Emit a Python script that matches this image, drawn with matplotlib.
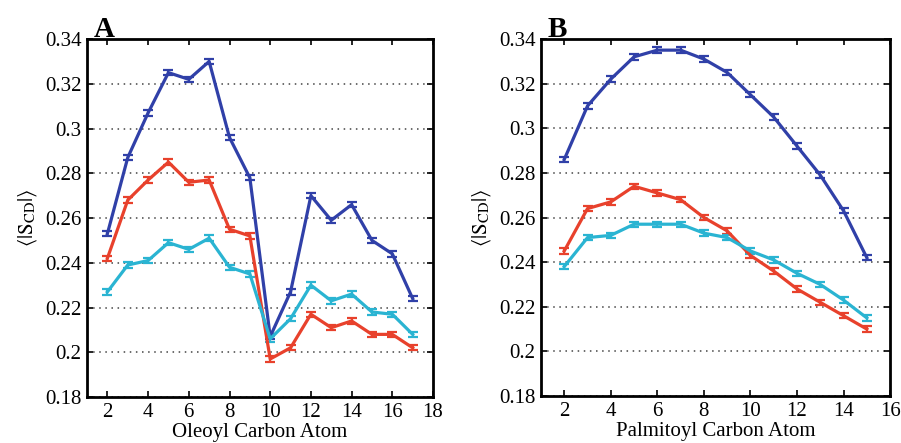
import matplotlib
matplotlib.use("Agg")
import matplotlib.pyplot as plt
import numpy as np

plt.rcParams['font.family'] = ['Liberation Serif', 'DejaVu Serif']
plt.rcParams['mathtext.fontset'] = 'stix'

# Panel A: oleoyl chain
carbons_a = list(range(2, 18))
blue_a = [0.253, 0.287, 0.307, 0.325, 0.322, 0.330, 0.296, 0.278, 0.207, 0.227,
          0.270, 0.259, 0.266, 0.250, 0.244, 0.224]
red_a = [0.242, 0.268, 0.277, 0.285, 0.276, 0.277, 0.255, 0.252, 0.197, 0.202,
         0.217, 0.211, 0.214, 0.208, 0.208, 0.202]
cyan_a = [0.227, 0.239, 0.241, 0.249, 0.246, 0.251, 0.238, 0.235, 0.206, 0.215,
          0.230, 0.223, 0.226, 0.218, 0.217, 0.208]

# Panel B: palmitoyl chain
carbons_b = list(range(2, 16))
blue_b = [0.286, 0.310, 0.322, 0.332, 0.335, 0.335, 0.331, 0.325, 0.315, 0.305,
          0.292, 0.279, 0.263, 0.242]
red_b = [0.245, 0.264, 0.267, 0.274, 0.271, 0.268, 0.260, 0.254, 0.243, 0.236,
         0.228, 0.222, 0.216, 0.210]
cyan_b = [0.238, 0.251, 0.252, 0.257, 0.257, 0.257, 0.253, 0.251, 0.245, 0.241,
          0.235, 0.230, 0.223, 0.215]

err = 0.0012
colors = {'blue': '#3040a8', 'red': '#e8412c', 'cyan': '#2ab4d2'}

fig = plt.figure(figsize=(9.01, 4.43), dpi=100)
axA = fig.add_axes([0.0966, 0.1038, 0.384, 0.808])
axB = fig.add_axes([0.6004, 0.1060, 0.3875, 0.806])

def style(ax, xlim, xticks, xlabel, letter):
    ax.set_xlim(*xlim)
    ax.set_ylim(0.18, 0.34)
    ax.set_xticks(xticks)
    ax.set_yticks([0.18, 0.20, 0.22, 0.24, 0.26, 0.28, 0.30, 0.32, 0.34])
    ax.set_yticklabels(['0.18', '0.2', '0.22', '0.24', '0.26', '0.28', '0.3', '0.32', '0.34'])
    ax.tick_params(direction='in', top=True, right=True, length=4, width=1.2,
                   labelsize=15, pad=4)
    ax.yaxis.grid(True, linestyle=(0, (1, 3)), color='#444444', linewidth=1.1)
    for s in ax.spines.values():
        s.set_linewidth(2.0)
    ax.set_xlabel(xlabel, fontsize=15, labelpad=1)
    ax.set_ylabel(r'$\langle|\mathrm{S}_{\mathrm{CD}}|\rangle$', fontsize=15, labelpad=4)
    ax.text(0.02, 0.99, letter, transform=ax.transAxes, fontsize=21,
            fontweight='bold', va='bottom', ha='left')

for ax, x, series in [(axA, carbons_a, [(blue_a, 'blue'), (red_a, 'red'), (cyan_a, 'cyan')]),
                      (axB, carbons_b, [(blue_b, 'blue'), (red_b, 'red'), (cyan_b, 'cyan')])]:
    for y, c in series:
        ax.errorbar(x, y, yerr=err, color=colors[c], linewidth=2.3,
                    elinewidth=1.6, capsize=3.5, capthick=1.6)

style(axA, (1, 18), list(range(2, 19, 2)), 'Oleoyl Carbon Atom', 'A')
style(axB, (1, 16), list(range(2, 17, 2)), 'Palmitoyl Carbon Atom', 'B')

fig.savefig('out.png', dpi=100)
